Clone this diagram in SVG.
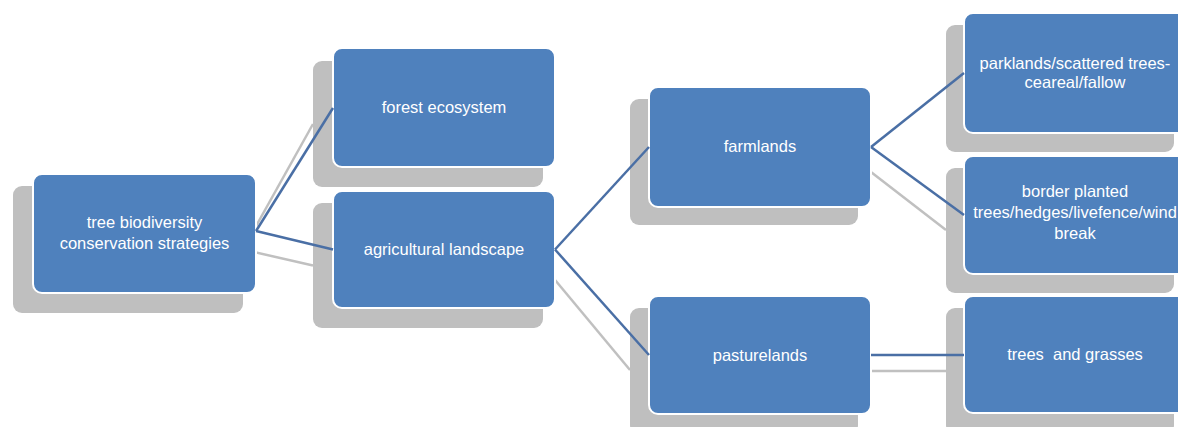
<svg xmlns="http://www.w3.org/2000/svg" width="1178" height="427" viewBox="0 0 1178 427">
  <style>
    .box { fill: #4f81bd; stroke: #ffffff; stroke-width: 2; }
    .shadow { fill: #bfbfbf; }
    .lbl { font-family: "Liberation Sans", Arial, sans-serif; font-size: 16.5px; fill: #ffffff; text-anchor: middle; white-space: pre; }
    .con { stroke: #4a6fa5; stroke-width: 2.5; fill: none; }
    .scon { stroke: #c0c0c0; stroke-width: 2.5; fill: none; }
  </style>
  <rect width="1178" height="427" fill="#ffffff"/>
  <g id="connector-shadows">
    <line class="scon" x1="243" y1="249.5" x2="313" y2="124"/>
    <line class="scon" x1="243" y1="249.5" x2="313" y2="265.5"/>
    <line class="scon" x1="543" y1="265.5" x2="630" y2="370"/>
    <line class="scon" x1="858" y1="162" x2="946" y2="230"/>
    <line class="scon" x1="858" y1="371" x2="946" y2="371"/>
  </g>
  <g id="node-root">
    <rect class="shadow" x="13" y="186" width="230" height="127" rx="9"/>
    <rect class="box" x="33" y="174" width="223" height="119" rx="9"/>
    <text class="lbl" x="144.5" y="228">tree biodiversity</text>
    <text class="lbl" x="144.5" y="249">conservation strategies</text>
  </g>
  <g id="node-forest">
    <rect class="shadow" x="313" y="61" width="230" height="126" rx="9"/>
    <rect class="box" x="333" y="48" width="222" height="119" rx="9"/>
    <text class="lbl" x="444" y="113">forest ecosystem</text>
  </g>
  <g id="node-agri">
    <rect class="shadow" x="313" y="203" width="230" height="125" rx="9"/>
    <rect class="box" x="333" y="191" width="222" height="117" rx="9"/>
    <text class="lbl" x="444" y="255">agricultural landscape</text>
  </g>
  <g id="node-farmlands">
    <rect class="shadow" x="630" y="99" width="228" height="126" rx="9"/>
    <rect class="box" x="649" y="87" width="222" height="120" rx="9"/>
    <text class="lbl" x="760" y="152">farmlands</text>
  </g>
  <g id="node-pasture">
    <rect class="shadow" x="630" y="308" width="228" height="126" rx="9"/>
    <rect class="box" x="649" y="296" width="222" height="118" rx="9"/>
    <text class="lbl" x="760" y="361">pasturelands</text>
  </g>
  <g id="node-parklands">
    <rect class="shadow" x="946" y="25" width="228" height="127" rx="9"/>
    <rect class="box" x="964" y="13" width="222" height="120" rx="9"/>
    <text class="lbl" x="1075" y="69">parklands/scattered trees-</text>
    <text class="lbl" x="1075" y="88">ceareal/fallow</text>
  </g>
  <g id="node-border">
    <rect class="shadow" x="946" y="168" width="228" height="125" rx="9"/>
    <rect class="box" x="964" y="156" width="222" height="118" rx="9"/>
    <text class="lbl" x="1075" y="197">border planted</text>
    <text class="lbl" x="1075" y="218">trees/hedges/livefence/wind</text>
    <text class="lbl" x="1075" y="239">break</text>
  </g>
  <g id="node-trees">
    <rect class="shadow" x="946" y="308" width="228" height="126" rx="9"/>
    <rect class="box" x="964" y="296" width="222" height="117" rx="9"/>
    <text class="lbl" x="1075" y="360">trees  and grasses</text>
  </g>
  <g id="connectors">
    <line class="con" x1="256" y1="231" x2="333" y2="108"/>
    <line class="con" x1="256" y1="231" x2="333" y2="249.5"/>
    <line class="con" x1="555" y1="249.5" x2="649" y2="147"/>
    <line class="con" x1="555" y1="249.5" x2="649" y2="355"/>
    <line class="con" x1="871" y1="147" x2="964" y2="73"/>
    <line class="con" x1="871" y1="147" x2="964" y2="215"/>
    <line class="con" x1="871" y1="355" x2="964" y2="355"/>
  </g>
</svg>
